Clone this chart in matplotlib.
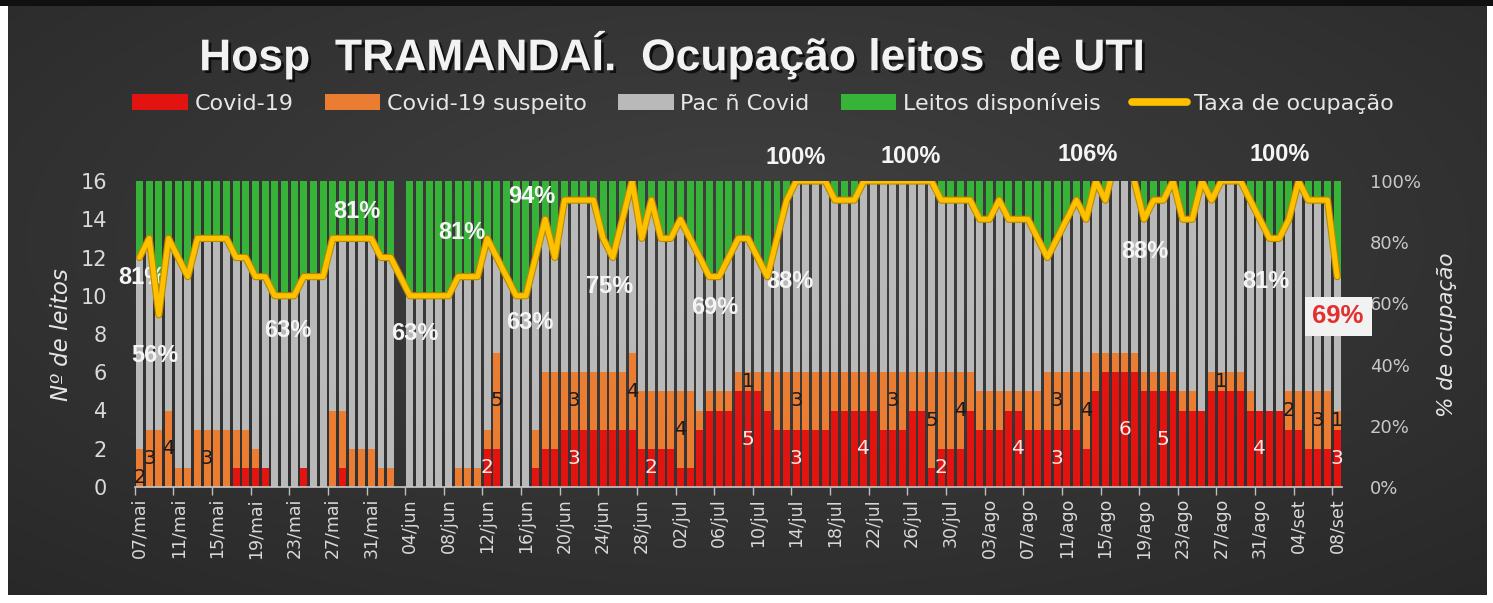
import numpy as np
import matplotlib
matplotlib.use('Agg')
import matplotlib.pyplot as plt
from matplotlib.patches import Patch, Rectangle
from matplotlib.lines import Line2D
import matplotlib.patheffects as pe

# ---------------- data ----------------
tick_labels = ['07/mai', '11/mai', '15/mai', '19/mai', '23/mai', '27/mai', '31/mai',
               '04/jun', '08/jun', '12/jun', '16/jun', '20/jun', '24/jun', '28/jun',
               '02/jul', '06/jul', '10/jul', '14/jul', '18/jul', '22/jul', '26/jul',
               '30/jul', '03/ago', '07/ago', '11/ago', '15/ago', '19/ago', '23/ago',
               '27/ago', '31/ago', '04/set', '08/set']

covid = [0, 0, 0, 0, 0, 0, 0, 0, 0, 0,
         1, 1, 1, 1, 0, 0, 0, 1, 0, 0,
         0, 1, 0, 0, 0, 0, 0, 0, 0, 0,
         0, 0, 0, 0, 0, 0, 2, 2, 0, 0,
         0, 1, 2, 2, 3, 3, 3, 3, 3, 3,
         3, 3, 2, 2, 2, 2, 1, 1, 3, 4,
         4, 4, 5, 5, 5, 4, 3, 3, 3, 3,
         3, 3, 4, 4, 4, 4, 4, 3, 3, 3,
         4, 4, 1, 2, 2, 2, 4, 3, 3, 3,
         4, 4, 3, 3, 3, 3, 3, 3, 2, 5,
         6, 6, 6, 6, 5, 5, 5, 5, 4, 4,
         4, 5, 5, 5, 5, 4, 4, 4, 4, 3,
         3, 2, 2, 2, 3]

suspeito = [2, 3, 3, 4, 1, 1, 3, 3, 3, 3,
            2, 2, 1, 0, 0, 0, 0, 0, 0, 0,
            4, 3, 2, 2, 2, 1, 1, 0, 0, 0,
            0, 0, 0, 1, 1, 1, 1, 5, 0, 0,
            0, 2, 4, 4, 3, 3, 3, 3, 3, 3,
            3, 4, 3, 3, 3, 3, 4, 4, 1, 1,
            1, 1, 1, 1, 1, 2, 3, 3, 3, 3,
            3, 3, 2, 2, 2, 2, 2, 3, 3, 3,
            2, 2, 5, 4, 4, 4, 2, 2, 2, 2,
            1, 1, 2, 2, 3, 3, 3, 3, 4, 2,
            1, 1, 1, 1, 1, 1, 1, 1, 1, 1,
            0, 1, 1, 1, 1, 1, 0, 0, 0, 2,
            2, 3, 3, 3, 1]

nao_covid = [10, 10, 6, 9, 11, 10, 10, 10, 10, 10,
             9, 9, 9, 10, 10, 10, 10, 10, 11, 11,
             9, 9, 11, 11, 11, 11, 11, 0, 10, 10,
             10, 10, 10, 10, 10, 10, 10, 5, 11, 10,
             10, 9, 8, 6, 9, 9, 9, 9, 7, 6,
             8, 9, 8, 10, 8, 8, 9, 8, 8, 6,
             6, 7, 7, 7, 6, 5, 7, 9, 10, 10,
             10, 10, 9, 9, 9, 10, 10, 10, 10, 10,
             10, 10, 10, 9, 9, 9, 9, 9, 9, 10,
             9, 9, 9, 8, 6, 7, 8, 9, 8, 9,
             8, 10, 10, 9, 8, 9, 9, 10, 9, 9,
             12, 9, 10, 10, 10, 10, 10, 9, 9, 9,
             11, 10, 10, 10, 7]

disponiveis = [4, 3, 7, 3, 4, 5, 3, 3, 3, 3,
               4, 4, 5, 5, 6, 6, 6, 5, 5, 5,
               3, 3, 3, 3, 3, 4, 4, 0, 6, 6,
               6, 6, 6, 5, 5, 5, 3, 4, 5, 6,
               6, 4, 2, 4, 1, 1, 1, 1, 3, 4,
               2, 0, 3, 1, 3, 3, 2, 3, 4, 5,
               5, 4, 3, 3, 4, 5, 3, 1, 0, 0,
               0, 0, 1, 1, 1, 0, 0, 0, 0, 0,
               0, 0, 0, 1, 1, 1, 1, 2, 2, 1,
               2, 2, 2, 3, 4, 3, 2, 1, 2, 0,
               1, 0, 0, 0, 2, 1, 1, 0, 2, 2,
               0, 1, 0, 0, 0, 1, 2, 3, 3, 2,
               0, 1, 1, 1, 5]

taxa = [75, 81.25, 56.25, 81.25, 75, 68.75, 81.25, 81.25, 81.25, 81.25,
        75, 75, 68.75, 68.75, 62.5, 62.5, 62.5, 68.75, 68.75, 68.75,
        81.25, 81.25, 81.25, 81.25, 81.25, 75, 75, 68.75, 62.5, 62.5,
        62.5, 62.5, 62.5, 68.75, 68.75, 68.75, 81.25, 75, 68.75, 62.5,
        62.5, 75, 87.5, 75, 93.75, 93.75, 93.75, 93.75, 81.25, 75,
        87.5, 100, 81.25, 93.75, 81.25, 81.25, 87.5, 81.25, 75, 68.75,
        68.75, 75, 81.25, 81.25, 75, 68.75, 81.25, 93.75, 100, 100,
        100, 100, 93.75, 93.75, 93.75, 100, 100, 100, 100, 100,
        100, 100, 100, 93.75, 93.75, 93.75, 93.75, 87.5, 87.5, 93.75,
        87.5, 87.5, 87.5, 81.25, 75, 81.25, 87.5, 93.75, 87.5, 100,
        93.75, 106.25, 106.25, 100, 87.5, 93.75, 93.75, 100, 87.5, 87.5,
        100, 93.75, 100, 100, 100, 93.75, 87.5, 81.25, 81.25, 87.5,
        100, 93.75, 93.75, 93.75, 68.75]

# days that carry value labels in the bars
susp_label_days = [0, 1, 3, 7, 37, 45, 51, 56, 63, 68, 78, 82, 85, 95, 98, 112, 119, 122, 124]
susp_label_anchor = ['base'] + ['center'] * 18
covid_label_days = [36, 45, 53, 63, 68, 75, 83, 91, 95, 102, 106, 116, 124]

# rate annotations (text, day, height in bed units)
pct_texts = ['81%', '56%', '63%', '81%', '63%', '81%', '63%', '94%', '75%', '69%',
             '88%', '100%', '100%', '106%', '88%', '100%', '81%']
pct_days = [0.2, 1.6, 15.4, 22.5, 28.5, 33.4, 40.4, 40.6, 48.7, 59.6,
            67.3, 67.9, 79.8, 98.2, 104.1, 118.1, 116.6]
pct_heights = [10.96, 6.9, 8.2, 14.4, 8.0, 13.3, 8.6, 15.2, 10.5, 9.4,
               10.75, 17.25, 17.3, 17.4, 12.3, 17.4, 10.75]
last_label = '69%'

# ---------------- style ----------------
RED = '#E3140F'
ORANGE = '#EB7D33'
GRAY = '#B9B9B9'
GREEN = '#37B337'
YELLOW = '#FFC000'
TXT = '#D9D9D9'

W, H = 1493, 603
fig = plt.figure(figsize=(W / 100, H / 100), dpi=100, facecolor='white')

# black strip at the top and dark gradient background
fig.patches.append(Rectangle((0, 1 - 6 / H), 1, 6 / H, transform=fig.transFigure,
                             facecolor='#101010', edgecolor='none', zorder=-20))
bx0, bx1, by0, by1 = 8, 1487, 6, 595
bg = fig.add_axes([bx0 / W, 1 - by1 / H, (bx1 - bx0) / W, (by1 - by0) / H], zorder=-10)
yy, xx = np.mgrid[0:1:200j, 0:1:400j]
r = np.sqrt(((xx - 0.5) / 0.7) ** 2 + ((yy - 0.4) / 0.75) ** 2)
val = 0.255 - 0.09 * np.clip(r, 0, 1.2)
bg.imshow(np.dstack([val, val, val]), extent=[0, 1, 0, 1], aspect='auto', origin='upper')
bg.set_axis_off()

# main axes
ax = fig.add_axes([134.7 / W, 1 - 487 / H, (1342 - 134.7) / W, (487 - 181) / H])
ax.patch.set_alpha(0)
x = np.arange(len(covid))
cv = np.array(covid, float)
sp = np.array(suspeito, float)
nc = np.array(nao_covid, float)
dp = np.array(disponiveis, float)
bw = 0.72
ax.bar(x, cv, bw, color=RED, linewidth=0)
ax.bar(x, sp, bw, bottom=cv, color=ORANGE, linewidth=0)
ax.bar(x, nc, bw, bottom=cv + sp, color=GRAY, linewidth=0)
ax.bar(x, dp, bw, bottom=cv + sp + nc, color=GREEN, linewidth=0)
ax.set_xlim(-0.5, len(covid) - 0.5)
ax.set_ylim(0, 16)
ax.set_yticks(np.arange(0, 17, 2))
ax.tick_params(axis='y', length=0, labelsize=15, labelcolor=TXT, pad=20)
tick_days = np.arange(0, len(covid), 4)
ax.set_xticks(tick_days)
ax.set_xticklabels(tick_labels, rotation=90, fontsize=12.5, color=TXT)
ax.tick_params(axis='x', length=0, pad=8)
ax.set_xticks(tick_days - 0.5, minor=True)
ax.tick_params(axis='x', which='minor', length=6, color='#BFBFBF', width=1)
for s in ['top', 'right', 'left']:
    ax.spines[s].set_visible(False)
ax.spines['bottom'].set_color('#C8C8C8')
ax.spines['bottom'].set_linewidth(1.2)

# bar value labels
for d, anc in zip(susp_label_days, susp_label_anchor):
    if anc == 'base':
        ax.text(d, cv[d] + 0.02, str(suspeito[d]), ha='center', va='bottom',
                fontsize=14, color='#1A1A1A', zorder=5)
    else:
        ax.text(d, cv[d] + sp[d] / 2, str(suspeito[d]), ha='center', va='center',
                fontsize=14, color='#1A1A1A', zorder=5)
for d in covid_label_days:
    ax.text(d, cv[d] / 2, str(covid[d]), ha='center', va='center',
            fontsize=14.5, color='#FFE6E6', zorder=5)

# rate annotations
for t, d, h in zip(pct_texts, pct_days, pct_heights):
    ax.text(d, h, t, ha='center', va='center', fontsize=17, fontweight='bold',
            color='#F5F5F5', family='Liberation Sans', zorder=6, clip_on=False)

# occupancy line
ax2 = ax.twinx()
ax2.plot(x, np.array(taxa) / 100, color=YELLOW, lw=3.6, solid_joinstyle='round',
         solid_capstyle='round', zorder=3,
         path_effects=[pe.Stroke(linewidth=5.2, foreground='#B88A00'), pe.Normal()])
ax2.set_ylim(0, 1)
ax2.set_yticks(np.linspace(0, 1, 6))
ax2.set_yticklabels(['0%', '20%', '40%', '60%', '80%', '100%'])
ax2.tick_params(axis='y', length=0, labelsize=13, labelcolor='#C8C8C8', pad=20)
for s in ['top', 'right', 'left', 'bottom']:
    ax2.spines[s].set_visible(False)
ax2.text(len(taxa) - 1 + 0.1, taxa[-1] / 100 - 0.13, last_label, ha='center', va='center',
         fontsize=18.5, fontweight='bold', color='#E03030', family='Liberation Sans',
         zorder=10, clip_on=False,
         bbox=dict(boxstyle='square,pad=0.3', facecolor='#F2F2F2', edgecolor='none'))

# axis titles
fig.text(62 / W, 1 - 335 / H, 'Nº de leitos', rotation=90, ha='center', va='center',
         fontsize=16.5, style='italic', color='#E6E6E6')
fig.text(1447 / W, 1 - 335 / H, '% de ocupação', rotation=90, ha='center', va='center',
         fontsize=15.5, style='italic', color='#E6E6E6')

# title
fig.text(673 / W, 1 - 55 / H, 'Hosp  TRAMANDAÍ.  Ocupação leitos  de UTI', ha='center',
         va='center', fontsize=32, fontweight='bold', color='#F2F2F2',
         family='Liberation Sans',
         path_effects=[pe.withSimplePatchShadow(offset=(2, -2), shadow_rgbFace='black', alpha=0.7)])

# legend
handles = [Patch(facecolor=RED), Patch(facecolor=ORANGE), Patch(facecolor=GRAY),
           Patch(facecolor=GREEN),
           Line2D([], [], color=YELLOW, lw=5.5, solid_capstyle='round')]
labels = ['Covid-19', 'Covid-19 suspeito', 'Pac ñ Covid', 'Leitos disponíveis', 'Taxa de ocupação']
leg = fig.legend(handles, labels, loc='center', bbox_to_anchor=(763 / W, 1 - 103 / H),
                 ncol=5, frameon=False, fontsize=16, handlelength=2.5, handleheight=0.7,
                 handletextpad=0.3, columnspacing=1.4)
for t in leg.get_texts():
    t.set_color('#E6E6E6')

fig.savefig('out.png', dpi=100, facecolor=fig.get_facecolor())
